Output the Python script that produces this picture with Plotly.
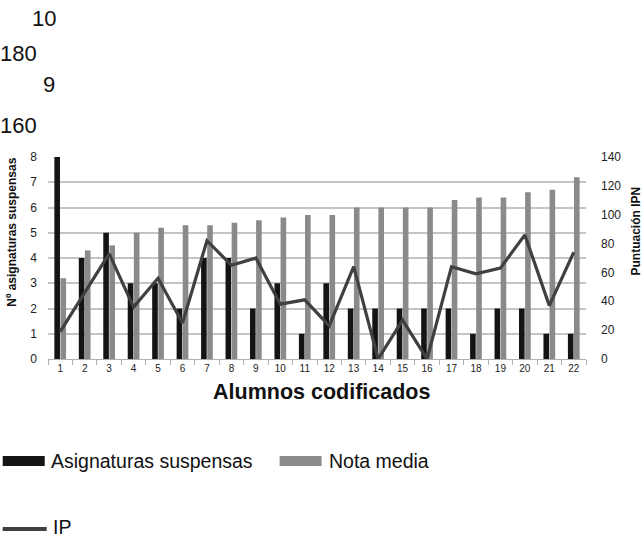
import plotly.graph_objects as go

alumnos = [str(i) for i in range(1, 23)]
asignaturas_suspensas = [8, 4, 5, 3, 3, 2, 4, 4, 2, 3, 1, 3, 2, 2, 2, 2, 2, 1, 2, 2, 1, 1]
nota_media = [3.2, 4.3, 4.5, 5.0, 5.2, 5.3, 5.3, 5.4, 5.5, 5.6, 5.7, 5.7, 6.0, 6.0, 6.0, 6.0,
              6.3, 6.4, 6.4, 6.6, 6.7, 7.2]
ip = [19, 46, 73, 36, 56, 25, 82, 65, 70, 38, 41, 23, 64, 0, 27, 0, 64, 59, 63, 86, 37, 74]
left_ticks = [0, 1, 2, 3, 4, 5, 6, 7, 8]
right_ticks = [0, 20, 40, 60, 80, 100, 120, 140]
stray_labels = ["10", "180", "9", "160"]

W, H = 643, 538
# plot area in screen pixels
L, R, T, B = 48.3, 586.5, 157, 359
FONT = "Liberation Sans, Arial, sans-serif"


def px(x):
    return (x - L) / (R - L)


def py(y):
    return (B - y) / (B - T)


fig = go.Figure()
fig.add_trace(go.Bar(x=alumnos, y=asignaturas_suspensas, name="Asignaturas suspensas",
                     marker=dict(color="#141414", line=dict(width=0)), showlegend=False))
fig.add_trace(go.Bar(x=alumnos, y=nota_media, name="Nota media",
                     marker=dict(color="#8a8a8a", line=dict(width=0)), showlegend=False))
fig.add_trace(go.Scatter(x=alumnos, y=ip, name="IP", yaxis="y2", mode="lines",
                         line=dict(color="#404040", width=3.2), showlegend=False))

fig.update_layout(
    width=W, height=H, autosize=False,
    margin=dict(l=L, r=W - R, t=T, b=H - B, pad=0),
    paper_bgcolor="white", plot_bgcolor="white",
    barmode="group", bargap=0.5, bargroupgap=0.08,
    font=dict(family=FONT, color="#111"),
    xaxis=dict(type="category", showgrid=False, showline=True, linecolor="#b0b0b0",
               linewidth=1, ticks="outside", tickson="boundaries", ticklen=5,
               tickcolor="#b0b0b0", tickfont=dict(size=10, color="#222")),
    yaxis=dict(range=[0, 8], tickvals=left_ticks, showgrid=True, gridcolor="#c4c4c4",
               gridwidth=1.5, zeroline=False, showline=False, ticks="",
               ticklabelstandoff=10, tickfont=dict(size=12, color="#222")),
    yaxis2=dict(range=[0, 140], tickvals=right_ticks, overlaying="y", side="right",
                showgrid=False, zeroline=False, showline=False, ticks="",
                ticklabelstandoff=14, tickfont=dict(size=12, color="#222")),
)

ann = []
# stray labels at top-left
for txt, xr, yc in zip(stray_labels, [58, 39, 57, 39], [18, 53, 85, 125]):
    ann.append(dict(text=txt, x=px(xr), y=py(yc), xref="paper", yref="paper",
                    xanchor="right", yanchor="middle", showarrow=False,
                    font=dict(size=22, family=FONT, color="#111")))
# axis titles
ann.append(dict(text="<b>Nº asignaturas suspensas</b>", x=px(12), y=py(232), xref="paper",
                yref="paper", textangle=-90, showarrow=False, xanchor="center", yanchor="middle",
                font=dict(size=12, family=FONT, color="#111")))
ann.append(dict(text="<b>Puntuación IPN</b>", x=px(637), y=py(231), xref="paper",
                yref="paper", textangle=-90, showarrow=False, xanchor="center", yanchor="middle",
                font=dict(size=12, family=FONT, color="#111")))
ann.append(dict(text="<b>Alumnos codificados</b>", x=px(322), y=py(392), xref="paper",
                yref="paper", showarrow=False, xanchor="center", yanchor="middle",
                font=dict(size=21.5, family=FONT, color="#111")))
# legend texts
for txt, xl, yc in [("Asignaturas suspensas", 49, 461), ("Nota media", 327, 461), ("IP", 51, 527)]:
    ann.append(dict(text=txt, x=px(xl), y=py(yc), xref="paper", yref="paper",
                    xanchor="left", yanchor="middle", showarrow=False,
                    font=dict(size=19.5, family=FONT, color="#111")))
fig.update_layout(annotations=ann)

shapes = [
    dict(type="rect", xref="paper", yref="paper", x0=px(3), x1=px(45), y0=py(456), y1=py(466),
         fillcolor="#141414", line=dict(width=0)),
    dict(type="rect", xref="paper", yref="paper", x0=px(280), x1=px(322), y0=py(456), y1=py(466),
         fillcolor="#8a8a8a", line=dict(width=0)),
    dict(type="line", xref="paper", yref="paper", x0=px(3), x1=px(47), y0=py(529), y1=py(529),
         line=dict(color="#404040", width=4)),
]
fig.update_layout(shapes=shapes)

fig.write_html("out.html", config={"displayModeBar": False},
               post_script="document.body.style.margin='0';")
